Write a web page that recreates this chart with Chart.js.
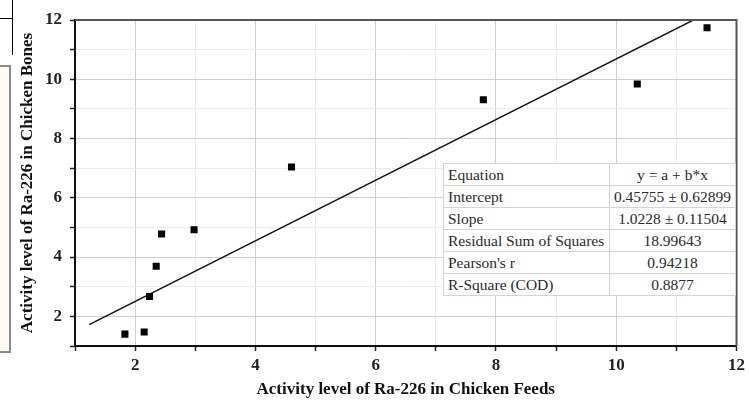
<!DOCTYPE html>
<html>
<head>
<meta charset="utf-8">
<script src="https://cdn.jsdelivr.net/npm/chart.js@4/dist/chart.umd.min.js"></script>
<style>
  html, body { margin: 0; padding: 0; background: #fff; }
  #wrap { position: relative; width: 749px; height: 400px; overflow: hidden; }
  canvas { position: absolute; left: 0; top: 0; }
  #stats { position: absolute; left: 443px; top: 163px; width: 293px; border-collapse: collapse;
           background: #fff; font-family: "Liberation Serif", "Times New Roman", serif; font-size: 15.5px; color: #2a2a2a;
           border: 1.5px solid #888; }
  #stats td { height: 21px; padding: 0 4px; border: 1px solid #d4d4d4; line-height: 21px; white-space: nowrap; }
  #stats td.v { text-align: center; }
  .art { position: absolute; }
</style>
</head>
<body>
<div id="wrap">
  <canvas id="c" width="749" height="400"></canvas>
  <div class="art" style="left:0;top:18px;width:12px;height:0;border-top:1px solid #000;"></div>
  <div class="art" style="left:12px;top:0;width:0;height:55px;border-left:1px solid #000;"></div>
  <div class="art" style="left:-4px;top:65px;width:11px;height:284px;border:2px solid #8a8a8a;background:#fffaf4;"></div>
  <table id="stats"></table>
</div>
<script>
// ---- data ----
const feeds = [1.83, 2.15, 2.24, 2.35, 2.44, 2.98, 4.60, 7.79, 10.35, 11.51];
const bones = [1.40, 1.47, 2.67, 3.69, 4.78, 4.92, 7.04, 9.31, 9.84, 11.74];
const intercept = 0.45755;
const slope = 1.0228;
const fitX = [1.236, 11.29];
const statLabels = ["Equation", "Intercept", "Slope", "Residual Sum of Squares", "Pearson's r", "R-Square (COD)"];
const statValues = ["y = a + b*x", "0.45755 \u00b1 0.62899", "1.0228 \u00b1 0.11504", "18.99643", "0.94218", "0.8877"];
const xTitle = "Activity level of Ra-226 in Chicken Feeds";
const yTitle = "Activity level of Ra-226 in Chicken Bones";

// stats table
const tbl = document.getElementById('stats');
statLabels.forEach((l, i) => {
  const tr = document.createElement('tr');
  const a = document.createElement('td'); a.textContent = l; a.style.width = '160px';
  const b = document.createElement('td'); b.className = 'v'; b.textContent = statValues[i];
  tr.appendChild(a); tr.appendChild(b); tbl.appendChild(tr);
});

const points = feeds.map((x, i) => ({ x: x, y: bones[i] }));
const fitLine = fitX.map(x => ({ x: x, y: intercept + slope * x }));

const frame = {
  id: 'frame',
  afterDraw(chart) {
    const { ctx, chartArea: a } = chart;
    ctx.save();
    ctx.strokeStyle = '#555';
    ctx.lineWidth = 2;
    ctx.beginPath();
    ctx.moveTo(a.left, a.top); ctx.lineTo(a.right, a.top); ctx.lineTo(a.right, a.bottom);
    ctx.stroke();
    ctx.restore();
  }
};

const serif = "'Liberation Serif', 'Times New Roman', serif";
const gridColor = ctx => (ctx.tick && ctx.tick.value % 2 === 0) ? '#cfcfcf' : '#ececec';
const evenOnly = v => (v % 2 === 0 ? String(v) : '');

new Chart(document.getElementById('c'), {
  type: 'scatter',
  data: {
    datasets: [
      { data: points, pointStyle: 'rect', pointRadius: 5, pointHoverRadius: 5,
        backgroundColor: '#000', borderColor: '#000', borderWidth: 0 },
      { data: fitLine, type: 'line', showLine: true, pointRadius: 0, borderColor: '#111',
        borderWidth: 1.5, fill: false }
    ]
  },
  plugins: [frame],
  options: {
    responsive: false,
    animation: false,
    layout: { padding: { left: 0, right: 7, top: 20, bottom: 0 } },
    plugins: { legend: { display: false }, tooltip: { enabled: false } },
    scales: {
      x: {
        type: 'linear', min: 1, max: 12,
        afterFit: s => { s.height = 54; },
        ticks: { stepSize: 1, autoSkip: false, maxRotation: 0, padding: 4, color: '#222',
                 font: { family: serif, size: 17, weight: 'bold' }, callback: evenOnly },
        grid: { color: gridColor, tickLength: 5, tickColor: '#222', tickWidth: 1.5 },
        border: { color: '#111', width: 2 },
        title: { display: true, text: xTitle, color: '#111', padding: { top: 8, bottom: 0 },
                 font: { family: serif, size: 17, weight: 'bold' } }
      },
      y: {
        type: 'linear', min: 1, max: 12,
        afterFit: s => { s.width = 75; },
        ticks: { stepSize: 1, autoSkip: false, padding: 8, color: '#222',
                 font: { family: serif, size: 17, weight: 'bold' }, callback: evenOnly },
        grid: { color: gridColor, tickLength: 5, tickColor: '#222', tickWidth: 1.5 },
        border: { color: '#111', width: 2 },
        title: { display: true, text: yTitle, color: '#111', padding: { top: 17, bottom: 0 },
                 font: { family: serif, size: 17, weight: 'bold' } }
      }
    }
  }
});
</script>
</body>
</html>
